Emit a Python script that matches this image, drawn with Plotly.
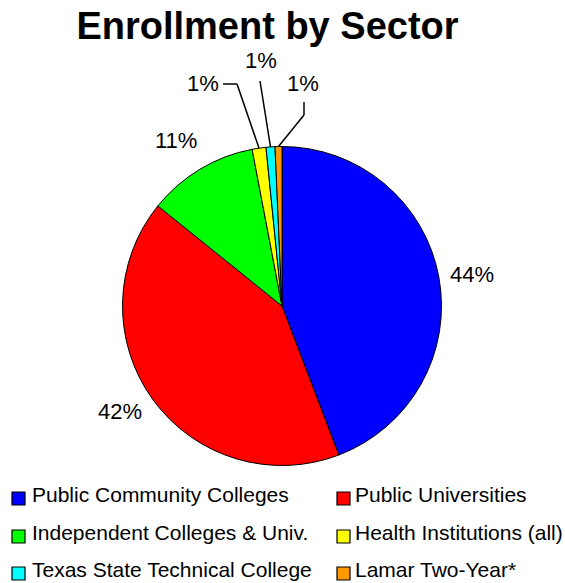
import math
import plotly.graph_objects as go

# Enrollment share by sector (percent of total)
sectors = [
    "Public Community Colleges",
    "Public Universities",
    "Independent Colleges & Univ.",
    "Health Institutions (all)",
    "Texas State Technical College",
    "Lamar Two-Year*",
]
shares = [44.2, 41.6, 11.2, 1.4, 0.9, 0.7]
colors = ["#0000FF", "#FF0000", "#00FF00", "#FFFF00", "#00FFFF", "#FF9900"]

W, H = 565, 583
CX, CY, R = 282, 306, 159.5
FONT = "Arial, Liberation Sans, sans-serif"


def px(x):
    return x / W


def py(y):
    return 1 - y / H


fig = go.Figure(
    go.Pie(
        labels=sectors,
        values=shares,
        marker=dict(colors=colors, line=dict(color="black", width=1)),
        sort=False,
        direction="clockwise",
        rotation=0,
        textinfo="none",
        hoverinfo="label+percent",
        showlegend=False,
        domain=dict(x=[px(CX - R), px(CX + R)], y=[py(CY + R), py(CY - R)]),
    )
)

annotations = []
shapes = []

# slice geometry derived from the values
total = sum(shares)
mids = []
cum = 0.0
for v in shares:
    mids.append((cum + v / 2) / total * 2 * math.pi)
    cum += v
pct_text = [f"{round(100 * v / total)}%" for v in shares]


def on_circle(theta, rad):
    return CX + rad * math.sin(theta), CY - rad * math.cos(theta)


# large slices: labels just outside the rim (small pixel nudges)
nudges = [(0, 3), (-6, -8), (-7, 0)]
for i in range(3):
    lx, ly = on_circle(mids[i], R * 1.21)
    lx += nudges[i][0]
    ly += nudges[i][1]
    annotations.append(dict(x=px(lx), y=py(ly), xref="paper", yref="paper",
                            text=pct_text[i], showarrow=False,
                            xanchor="center", yanchor="middle",
                            font=dict(family=FONT, size=22, color="black")))

# small slices: labels pulled out with leader lines
small = [
    # (index, label centre, leader path points before the rim)
    (3, (202.5, 83.5), [(223, 84), (237, 84)]),
    (4, (261, 60), [(260, 81)]),
    (5, (302.5, 83.5), [(304, 102), (304, 115)]),
]
for i, (lx, ly), pts in small:
    annotations.append(dict(x=px(lx), y=py(ly), xref="paper", yref="paper",
                            text=pct_text[i], showarrow=False,
                            xanchor="center", yanchor="middle",
                            font=dict(family=FONT, size=22, color="black")))
    ex, ey = on_circle(mids[i], R)
    path_pts = pts + [(ex, ey)]
    for (x0, y0), (x1, y1) in zip(path_pts[:-1], path_pts[1:]):
        shapes.append(dict(type="line", xref="paper", yref="paper",
                           x0=px(x0), y0=py(y0), x1=px(x1), y1=py(y1),
                           line=dict(color="black", width=1.5)))

# two-column legend below the pie
col_sq_x = [12, 337]
col_tx_x = [30, 353]
row_y = [498.5, 536.5, 573.5]
SQ = 13
for k, (name, col) in enumerate(zip(sectors, colors)):
    r, c = divmod(k, 2)
    x0 = col_sq_x[c]
    yc = row_y[r]
    shapes.append(dict(type="rect", xref="paper", yref="paper",
                       x0=px(x0), x1=px(x0 + SQ),
                       y0=py(yc + SQ / 2), y1=py(yc - SQ / 2),
                       fillcolor=col, line=dict(color="black", width=1.2)))
    annotations.append(dict(x=px(col_tx_x[c]), y=py(yc - 4), xref="paper", yref="paper",
                            text=name, showarrow=False,
                            xanchor="left", yanchor="middle",
                            font=dict(family=FONT, size=21, color="black")))

fig.update_layout(
    width=W,
    height=H,
    margin=dict(l=0, r=0, t=0, b=0),
    paper_bgcolor="white",
    plot_bgcolor="white",
    title=dict(text="<b>Enrollment by Sector</b>", x=267.5 / W, xanchor="center",
               y=py(26), yanchor="middle", yref="container",
               font=dict(family=FONT, size=38, color="black")),
    annotations=annotations,
    shapes=shapes,
)

fig.write_html("out.html")
